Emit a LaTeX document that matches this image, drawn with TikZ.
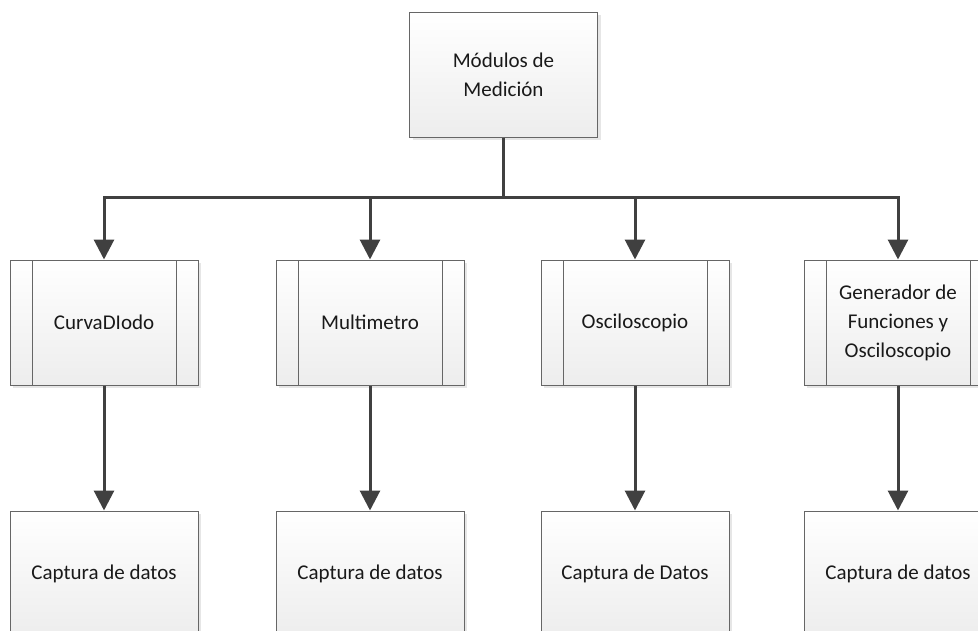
\documentclass[tikz,border=0pt]{standalone}
\usepackage{fontspec}
\setmainfont{Carlito}
\usetikzlibrary{arrows.meta,shadows,positioning}
\definecolor{linegray}{HTML}{404040}
\definecolor{edgegray}{HTML}{666666}
\definecolor{fillgray}{HTML}{EDEDED}

\begin{document}
\begin{tikzpicture}[x=1pt, y=-1pt, node distance=125pt, font=\fontsize{21}{29}\selectfont,
  box/.style={rectangle, draw=edgegray, line width=1pt, top color=white, bottom color=fillgray, minimum width=188pt, minimum height=125pt, align=center, text=black!90, drop shadow={opacity=.2, shadow xshift=3pt, shadow yshift=-3pt}},
  proc/.style={box, path picture={\draw[edgegray, line width=1pt] ([xshift=22pt]path picture bounding box.north west) -- ([xshift=22pt]path picture bounding box.south west) ([xshift=-22pt]path picture bounding box.north east) -- ([xshift=-22pt]path picture bounding box.south east);}},
  conn/.style={draw=linegray, line width=3pt},
  arr/.style={conn, -{Triangle[length=20pt, width=20pt]}}]
  \useasboundingbox (0,0) rectangle (978,630);

  \node[box] (modulos) at (503.5,74.5) {Módulos de\\Medición};

  \node[proc] (curva) at (104,322.5) {CurvaDIodo};
  \node[proc] (multi) at (370,322.5) {Multimetro};
  \node[proc] (osci) at (635,322.5) {Osciloscopio};
  \node[proc] (gen) at (898,322.5) {Generador de\\Funciones y\\Osciloscopio};

  \node[box, below=of curva] (capcurva) {Captura de datos};
  \node[box, below=of multi] (capmulti) {Captura de datos};
  \node[box, below=of osci] (caposci) {Captura de Datos};
  \node[box, below=of gen] (capgen) {Captura de datos};

  \draw[conn] (modulos.south) -- ++(0,60) coordinate (bar);
  \foreach \n in {curva,multi,osci,gen}
    \draw[arr] (bar) -| (\n.north);
  \foreach \a/\b in {curva/capcurva,multi/capmulti,osci/caposci,gen/capgen}
    \draw[arr] (\a.south) -- (\b.north);
\end{tikzpicture}
\end{document}
